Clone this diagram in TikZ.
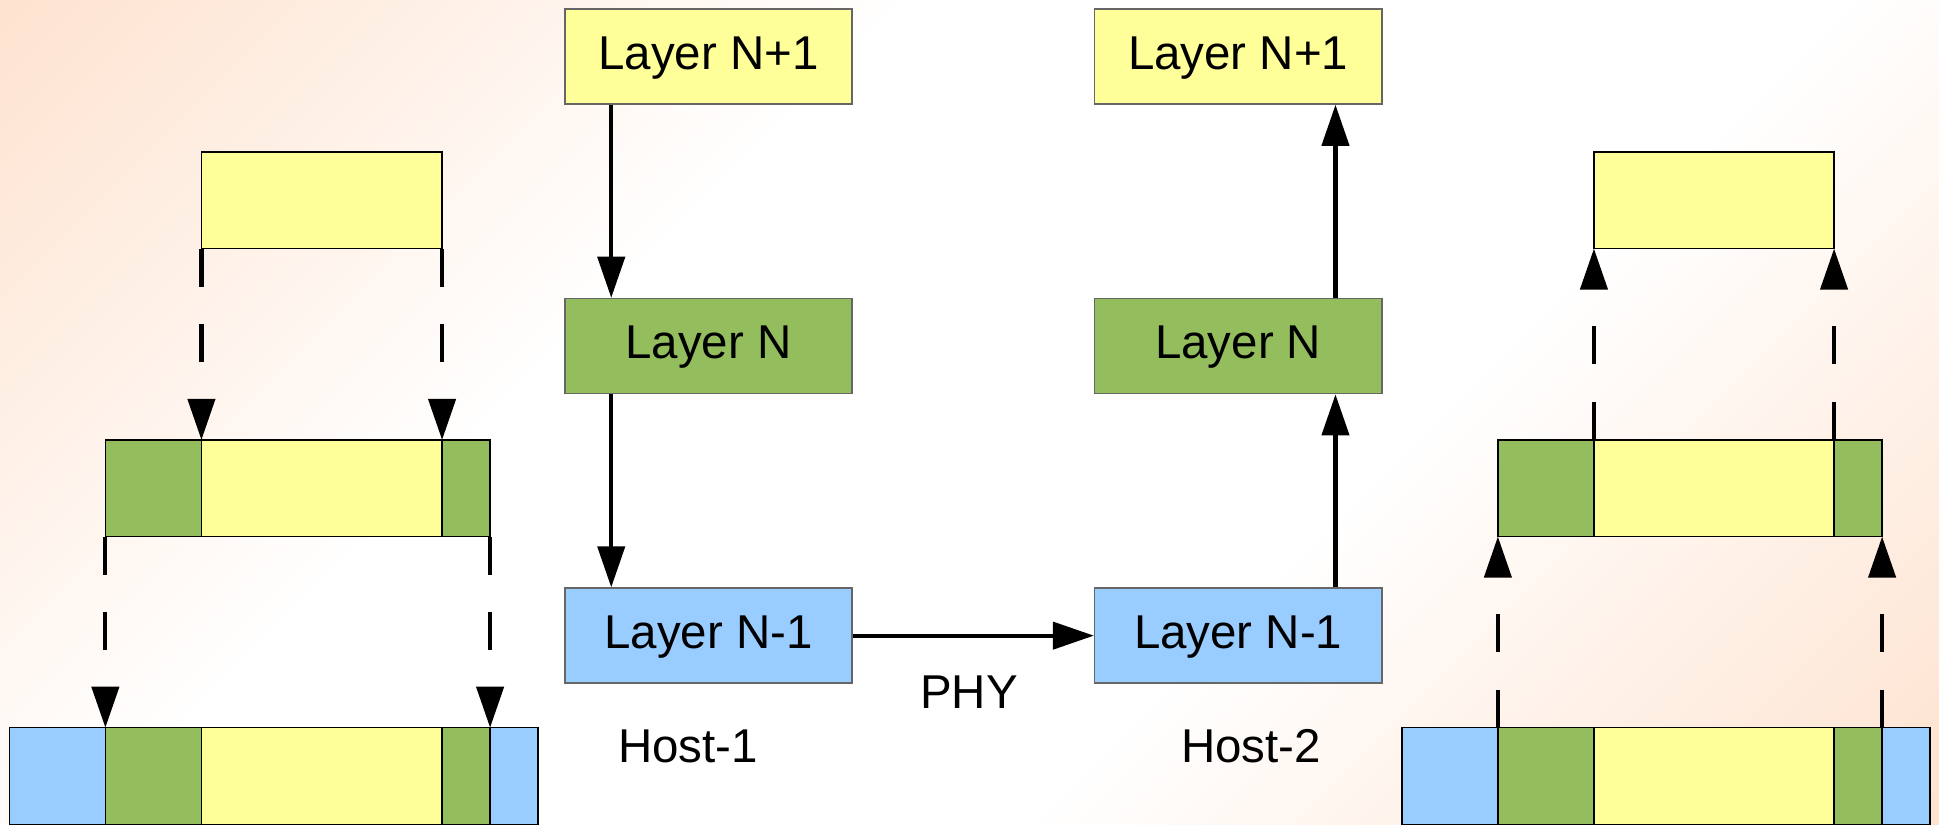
\documentclass[tikz,border=0pt]{standalone}
\usepackage{fontspec}
\setmainfont{Liberation Sans}
\usetikzlibrary{arrows.meta,positioning}
\definecolor{layeryellow}{RGB}{255,255,153}
\definecolor{layergreen}{RGB}{148,189,94}
\definecolor{layerblue}{RGB}{153,204,255}
\definecolor{peach}{RGB}{254,227,208}
\pgfdeclareverticalshading{paper}{100bp}{color(0bp)=(peach); color(15bp)=(peach); color(38bp)=(white); color(62bp)=(white); color(85bp)=(peach); color(100bp)=(peach)}
\tikzset{>={Triangle[length=11.7pt,width=7.7pt]}, % filled triangle heads
node distance=1.93cm, % gap between two layer boxes
layer/.style={draw=black!60, minimum width=2.87cm, minimum height=0.95cm, inner sep=0pt, text height=0.72em, text depth=0pt, font=\fontsize{13.5}{16}\selectfont}, % the Layer boxes
lbl/.style={font=\fontsize{13.5}{16}\selectfont}, % plain text
seg/.style={draw=black, line width=0.4pt, minimum height=0.965cm, inner sep=0pt, outer sep=0pt}, % one part of a packet
flow/.style={->, line width=1.2pt}, % arrow between layers
hop/.style={->, line width=1.2pt, dash pattern=on 10.8pt off 10.8pt}, % dashed arrow between packets
}
\begin{document}
\begin{tikzpicture}[x=0.01cm, y=-0.01cm]
\useasboundingbox (0,0) rectangle (1939,824);
\clip (0,0) rectangle (1939,824);
\shade[shading=paper, shading angle=45] (0,0) rectangle (1939,824);
% Host-1
\node[layer, fill=layeryellow] (a2) at (708.5,56.5) {Layer N+1};
\node[layer, fill=layergreen, below=of a2] (a1) {Layer N};
\node[layer, fill=layerblue, below=of a1] (a0) {Layer N-1};
% Host-2
\node[layer, fill=layeryellow, right=2.41cm of a2] (b2) {Layer N+1};
\node[layer, fill=layergreen, below=of b2] (b1) {Layer N};
\node[layer, fill=layerblue, below=of b1] (b0) {Layer N-1};
\draw[flow] ([xshift=0.47cm]a2.south west) -- ([xshift=0.47cm]a1.north west);
\draw[flow] ([xshift=0.47cm]a1.south west) -- ([xshift=0.47cm]a0.north west);
\draw[flow] ([xshift=-0.47cm]b0.north east) -- ([xshift=-0.47cm]b1.south east);
\draw[flow] ([xshift=-0.47cm]b1.north east) -- ([xshift=-0.47cm]b2.south east);
\draw[flow] (a0) -- (b0);
\node[lbl] (phy) at (969,692) {PHY};
\node[lbl] (h1) at (688,746) {Host-1};
\node[lbl] (h2) at (1251,746) {Host-2};
% packets sent by Host-1
\node[seg, fill=layeryellow, minimum width=2.405cm] (lt) at (321.75,200.25) {};
\node[seg, fill=layeryellow, minimum width=2.405cm] (lmy) at (321.75,488.25) {};
\node[seg, fill=layergreen, minimum width=0.96cm, left=0pt of lmy] (lmg) {};
\node[seg, fill=layergreen, minimum width=0.48cm, right=0pt of lmy] (lmh) {};
\node[seg, fill=layeryellow, minimum width=2.405cm] (lby) at (321.75,776) {};
\node[seg, fill=layergreen, minimum width=0.96cm, left=0pt of lby] (lbg) {};
\node[seg, fill=layerblue, minimum width=0.96cm, left=0pt of lbg] (lbb) {};
\node[seg, fill=layergreen, minimum width=0.48cm, right=0pt of lby] (lbh) {};
\node[seg, fill=layerblue, minimum width=0.48cm, right=0pt of lbh] (lbc) {};
\draw[hop] (lt.south west) -- (lmy.north west);
\draw[hop] (lt.south east) -- (lmy.north east);
\draw[hop] (lmg.south west) -- (lbg.north west);
\draw[hop] (lmh.south east) -- (lbh.north east);
% packets received by Host-2
\node[seg, fill=layeryellow, minimum width=2.4cm] (rt) at (1714,200.25) {};
\node[seg, fill=layeryellow, minimum width=2.4cm] (rmy) at (1714,488.25) {};
\node[seg, fill=layergreen, minimum width=0.96cm, left=0pt of rmy] (rmg) {};
\node[seg, fill=layergreen, minimum width=0.48cm, right=0pt of rmy] (rmh) {};
\node[seg, fill=layeryellow, minimum width=2.4cm] (rby) at (1714,776) {};
\node[seg, fill=layergreen, minimum width=0.96cm, left=0pt of rby] (rbg) {};
\node[seg, fill=layerblue, minimum width=0.96cm, left=0pt of rbg] (rbb) {};
\node[seg, fill=layergreen, minimum width=0.48cm, right=0pt of rby] (rbh) {};
\node[seg, fill=layerblue, minimum width=0.48cm, right=0pt of rbh] (rbc) {};
\draw[hop] (rmy.north west) -- (rt.south west);
\draw[hop] (rmy.north east) -- (rt.south east);
\draw[hop] (rbg.north west) -- (rmg.south west);
\draw[hop] (rbh.north east) -- (rmh.south east);
\end{tikzpicture}
\end{document}
